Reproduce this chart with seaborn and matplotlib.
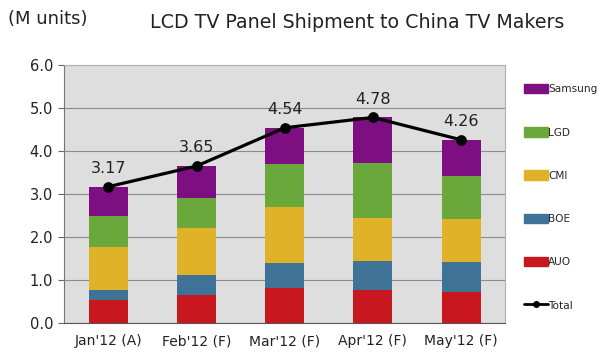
import pandas as pd
import seaborn as sns
import matplotlib
matplotlib.use("Agg")
import matplotlib.pyplot as plt
from matplotlib.patches import Patch
from matplotlib.lines import Line2D

# 데이터
months = ["Jan'12 (A)", "Feb'12 (F)", "Mar'12 (F)", "Apr'12 (F)", "May'12 (F)"]
auo = [0.54, 0.66, 0.81, 0.76, 0.73]
boe = [0.23, 0.45, 0.58, 0.69, 0.69]
cmi = [1.01, 1.10, 1.32, 0.99, 1.00]
lgd = [0.70, 0.70, 0.98, 1.28, 0.99]
samsung = [0.69, 0.74, 0.85, 1.06, 0.85]
total = [3.17, 3.65, 4.54, 4.78, 4.26]

makers = ["AUO", "BOE", "CMI", "LGD", "Samsung"]
colors = {"AUO": "#c8171e", "BOE": "#3e7296", "CMI": "#dfb227",
          "LGD": "#6aa83c", "Samsung": "#7e0f82"}

df = pd.DataFrame({"month": months, "AUO": auo, "BOE": boe, "CMI": cmi,
                   "LGD": lgd, "Samsung": samsung, "Total": total})

sns.set_style("white")
plt.rcParams['font.family'] = ['DejaVu Sans']

fig = plt.figure(figsize=(6, 3.57), dpi=100)
ax = fig.add_axes([0.107, 0.095, 0.735, 0.723])
ax.set_facecolor("#dedede")

# 누적 막대: 위쪽 층부터 그려서 아래 층이 덮도록
cum = df[makers].cumsum(axis=1)
for m in reversed(makers):
    sns.barplot(x=df["month"], y=cum[m], color=colors[m], width=0.44,
                saturation=1, linewidth=0, edgecolor="none", ax=ax, zorder=2)

# 합계 선
sns.pointplot(x=df["month"], y=df["Total"], color="black", markers="o",
              linewidth=2.3, markersize=6, ax=ax, zorder=5)

for i, t in enumerate(total):
    ax.text(i, t + 0.42, f"{t:.2f}", ha="center", va="center", fontsize=11.5,
            color="#222222")

ax.set_ylim(0, 6)
ax.set_xlim(-0.5, 4.5)
ax.set_yticks([0, 1, 2, 3, 4, 5, 6])
ax.set_yticklabels([f"{v:.1f}" for v in range(7)], fontsize=10.5, color="#222222")
ax.set_xticklabels(months, fontsize=10, color="#222222")
ax.set_xticks([-0.5, 0.5, 1.5, 2.5, 3.5, 4.5], minor=True)
ax.tick_params(axis="x", which="major", length=0, pad=8)
ax.tick_params(axis="x", which="minor", length=5, color="#666666", direction="out")
ax.tick_params(axis="y", length=4, color="#666666", direction="out", left=True, pad=4)
ax.set_xlabel("")
ax.set_ylabel("")
ax.yaxis.grid(True, color="#8c8c8c", linewidth=0.8, zorder=0)
ax.set_axisbelow(True)
for s in ["top", "right"]:
    ax.spines[s].set_color("#b0b0b0")
ax.spines["left"].set_color("#777777")
ax.spines["bottom"].set_color("#555555")

handles = [Patch(color=colors[m]) for m in reversed(makers)]
handles.append(Line2D([], [], color="black", marker="o", markersize=4, linewidth=2))
labels = list(reversed(makers)) + ["Total"]
fig.legend(handles, labels, loc="upper left", bbox_to_anchor=(0.874, 0.765),
           frameon=False, fontsize=7.6, labelspacing=3.12, handlelength=2.2,
           handleheight=1.0, handletextpad=0.05, borderaxespad=0, borderpad=0)

fig.text(0.013, 0.947, "(M units)", fontsize=13, color="#222222", va="center")
fig.text(0.595, 0.937, "LCD TV Panel Shipment to China TV Makers", fontsize=13.7,
         color="#222222", ha="center", va="center")

fig.savefig("out.png", dpi=100)
